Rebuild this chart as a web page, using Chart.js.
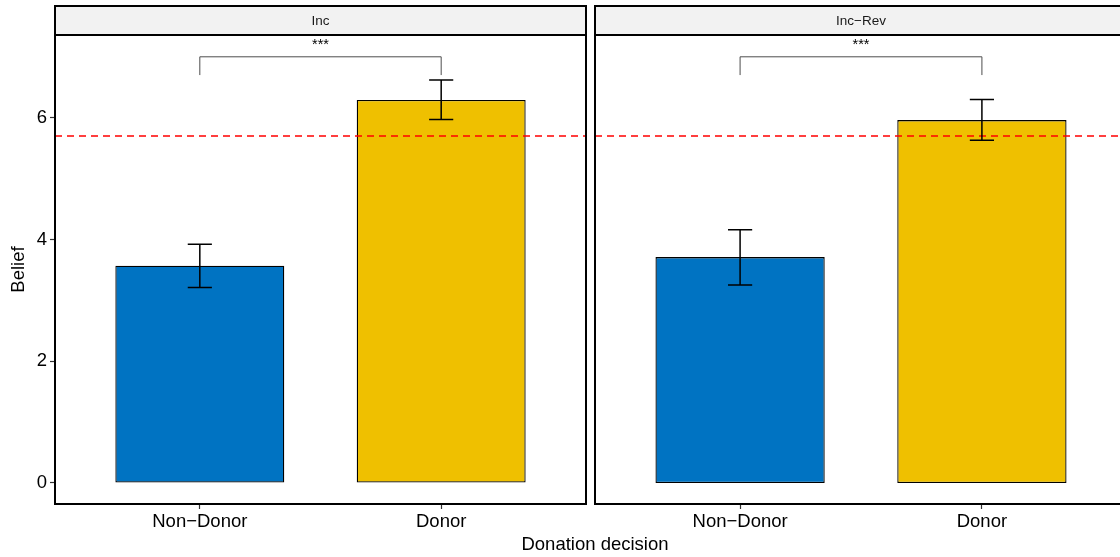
<!DOCTYPE html>
<html>
<head>
<meta charset="utf-8">
<script src="https://cdn.jsdelivr.net/npm/chart.js@4.4.1/dist/chart.umd.min.js"></script>
<style>
    html, body { margin: 0; padding: 0; background: #fff; overflow: hidden; }
    #wrap { position: relative; width: 1120px; height: 557px; overflow: hidden; }
    canvas { position: absolute; top: 0; }
    #xtitle {
        position: absolute; left: 0; width: 1190px; top: 533px;
        text-align: center; font: 18.5px "Liberation Sans", Arial, sans-serif; color: #000;
    }
</style>
</head>
<body>
<div id="wrap">
    <canvas id="leftChart" width="600" height="557" style="left:0"></canvas>
    <canvas id="rightChart" width="570" height="557" style="left:560px"></canvas>
    <div id="xtitle">Donation decision</div>
</div>
<script>
const categories = ['Non\u2212Donor', 'Donor'];
const panels = ['Inc', 'Inc\u2212Rev'];
const yTicks = [0, 2, 4, 6];

// mean belief per group, with lower / upper error bar ends
const incMeans = [3.57, 6.29];
const incLow = [3.21, 5.97];
const incHigh = [3.92, 6.62];
const incRevMeans = [3.71, 5.96];
const incRevLow = [3.25, 5.63];
const incRevHigh = [4.16, 6.30];

const refLine = 5.70;
const bracketTop = 7.0;
const bracketFoot = 6.7;
const sigLabel = '***';

const barColors = ['#0073C2', '#EFC000'];
const FONT = '"Liberation Sans", Arial, Helvetica, sans-serif';
const TEXT_SIZE = 18.5;

// strip on top + black frame round the panel
const panelFrame = {
    id: 'panelFrame',
    afterDraw(chart, args, opts) {
        const ctx = chart.ctx, a = chart.chartArea;
        ctx.save();
        ctx.fillStyle = '#F2F2F2';
        ctx.fillRect(a.left, 6, a.right - a.left, a.top - 6);
        ctx.strokeStyle = '#000';
        ctx.lineWidth = 2;
        ctx.strokeRect(a.left, 6, a.right - a.left, a.top - 6);
        ctx.strokeRect(a.left, a.top, a.right - a.left, a.bottom - a.top);
        ctx.fillStyle = '#1A1A1A';
        ctx.font = '13.5px ' + FONT;
        ctx.textAlign = 'center';
        ctx.textBaseline = 'middle';
        ctx.fillText(opts.label, (a.left + a.right) / 2, (6 + a.top) / 2 + 1);
        ctx.restore();
    }
};

// error bars and the significance bracket, drawn through the scales
const errorBars = {
    id: 'errorBars',
    afterDatasetsDraw(chart, args, opts) {
        const ctx = chart.ctx, x = chart.scales.x, y = chart.scales.y;
        ctx.save();
        ctx.strokeStyle = '#000';
        ctx.lineWidth = 1.5;
        opts.low.forEach((lo, i) => {
            const px = x.getPixelForValue(i + 1);
            const half = x.getPixelForValue(i + 1.05) - px;
            const yl = y.getPixelForValue(lo), yh = y.getPixelForValue(opts.high[i]);
            ctx.beginPath();
            ctx.moveTo(px, yl); ctx.lineTo(px, yh);
            ctx.moveTo(px - half, yl); ctx.lineTo(px + half, yl);
            ctx.moveTo(px - half, yh); ctx.lineTo(px + half, yh);
            ctx.stroke();
        });
        const x1 = x.getPixelForValue(1), x2 = x.getPixelForValue(2);
        const yt = y.getPixelForValue(bracketTop), yf = y.getPixelForValue(bracketFoot);
        ctx.strokeStyle = '#4D4D4D';
        ctx.lineWidth = 1;
        ctx.beginPath();
        ctx.moveTo(x1, yf); ctx.lineTo(x1, yt); ctx.lineTo(x2, yt); ctx.lineTo(x2, yf);
        ctx.stroke();
        ctx.fillStyle = '#000';
        ctx.font = '14.5px ' + FONT;
        ctx.textAlign = 'center';
        ctx.textBaseline = 'alphabetic';
        ctx.fillText(sigLabel, (x1 + x2) / 2, yt - 8);
        ctx.restore();
    }
};

function buildChart(canvasId, label, means, low, high, showY, pad) {
    const ctx = document.getElementById(canvasId).getContext('2d');
    return new Chart(ctx, {
        type: 'bar',
        data: {
            datasets: [{
                type: 'bar',
                data: means.map((m, i) => ({ x: i + 1, y: m })),
                backgroundColor: barColors,
                borderColor: '#000',
                borderWidth: 1.3,
                borderSkipped: false,
                barPercentage: 0.7,
                categoryPercentage: 1,
                order: 2
            }, {
                type: 'line',
                data: [{ x: 0.4, y: refLine }, { x: 2.6, y: refLine }],
                borderColor: '#FF0000',
                borderWidth: 1.5,
                borderDash: [7, 5],
                pointRadius: 0,
                order: 1
            }]
        },
        options: {
            responsive: false,
            animation: false,
            layout: { padding: pad },
            plugins: {
                legend: { display: false },
                tooltip: { enabled: false },
                panelFrame: { label: label },
                errorBars: { low: low, high: high }
            },
            scales: {
                x: {
                    type: 'linear',
                    min: 0.4,
                    max: 2.6,
                    offset: false,
                    grid: { display: true, drawOnChartArea: false, offset: false, tickLength: 5, color: '#333', tickWidth: 1.2 },
                    border: { display: false },
                    afterBuildTicks: (scale) => { scale.ticks = [{ value: 1 }, { value: 2 }]; },
                    afterFit: (scale) => { scale.height = 53; },
                    ticks: {
                        padding: 2,
                        color: '#000',
                        font: { family: FONT, size: TEXT_SIZE },
                        maxRotation: 0,
                        callback: (v) => categories[v - 1]
                    }
                },
                y: {
                    display: showY,
                    min: -0.345,
                    max: 7.358,
                    grid: { display: true, drawOnChartArea: false, tickLength: 5, color: '#333', tickWidth: 1.2 },
                    border: { display: false },
                    afterBuildTicks: (scale) => { scale.ticks = yTicks.map(v => ({ value: v })); },
                    afterFit: (scale) => { scale.width = showY ? 55 : 0; },
                    ticks: {
                        padding: 3,
                        color: '#000',
                        font: { family: FONT, size: TEXT_SIZE }
                    },
                    title: {
                        display: true,
                        text: 'Belief',
                        color: '#000',
                        font: { family: FONT, size: TEXT_SIZE },
                        padding: { top: 8, bottom: 0 }
                    }
                }
            }
        },
        plugins: [panelFrame, errorBars]
    });
}

buildChart('leftChart', panels[0], incMeans, incLow, incHigh, true, { top: 35, left: 0, right: 14, bottom: 0 });
buildChart('rightChart', panels[1], incRevMeans, incRevLow, incRevHigh, false, { top: 35, left: 35, right: 3, bottom: 0 });
</script>
</body>
</html>
